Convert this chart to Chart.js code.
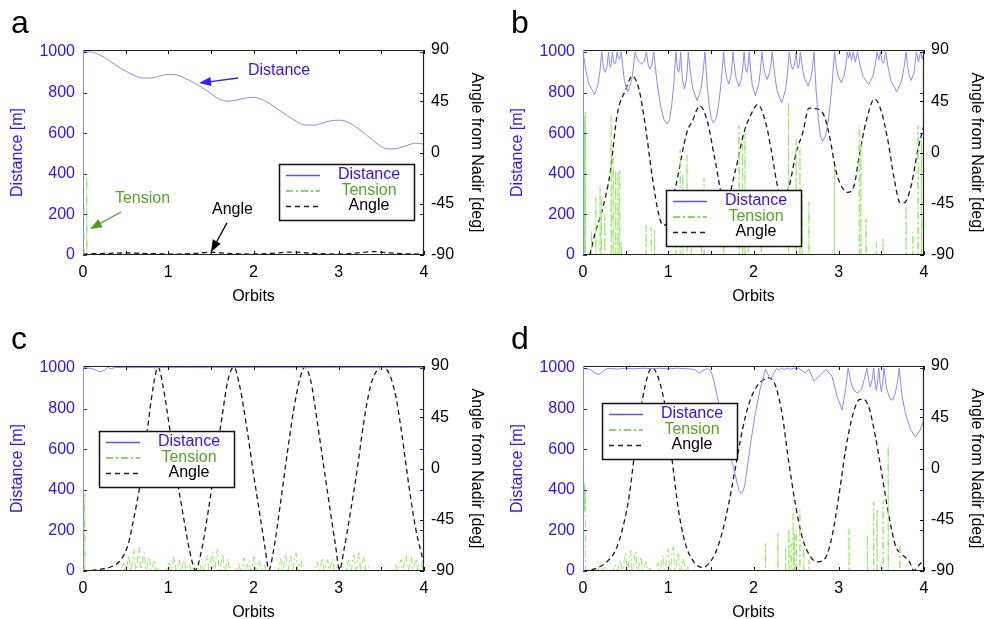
<!DOCTYPE html>
<html><head><meta charset="utf-8">
<script src="https://cdn.jsdelivr.net/npm/chart.js@4.4.0/dist/chart.umd.min.js"></script>
<style>
html,body{margin:0;padding:0;background:#fff;overflow:hidden;width:985px;height:619px;position:relative;}
canvas{position:absolute;}
</style></head><body>
<canvas id="ca" width="490" height="310" style="left:0px;top:0px"></canvas>
<canvas id="cb" width="490" height="310" style="left:500px;top:0px"></canvas>
<canvas id="cc" width="490" height="310" style="left:0px;top:316px"></canvas>
<canvas id="cd" width="490" height="310" style="left:500px;top:316px"></canvas>
<script>
// ---------- tick labels / names ----------
const orbitTicks = [0,1,2,3,4];
const orbitMinorTicks = [0,0.5,1,1.5,2,2.5,3,3.5,4];
const distanceTicks = [0,200,400,600,800,1000];
const angleTicks = [-90,-45,0,45,90];
const seriesNames = ['Distance','Tension','Angle'];
const panelLetters = ['a','b','c','d'];

// ---------- panel a ----------
const distanceA = [[0,1002],[0.1,1000],[0.2,985],[0.3,960],[0.4,931],[0.5,906],[0.6,885],[0.7,872],[0.8,872],[0.9,882],[1.0,890],[1.1,887],[1.2,870],[1.3,849],[1.4,824],[1.5,796],[1.6,768],[1.7,758],[1.8,763],[1.9,773],[2.0,776],[2.1,766],[2.2,743],[2.3,714],[2.4,686],[2.5,659],[2.6,641],[2.7,640],[2.8,648],[2.9,661],[3.0,664],[3.1,656],[3.2,631],[3.3,599],[3.4,566],[3.5,533],[3.6,522],[3.7,527],[3.8,540],[3.9,551],[4.0,546]];
const angleA = [[0,-89],[0.2,-88.8],[0.5,-88.2],[0.8,-88.8],[1.1,-89.2],[1.3,-88.6],[1.5,-87.6],[1.7,-88.6],[2.0,-89.2],[2.2,-88.6],[2.45,-87.4],[2.7,-88.6],[3.0,-89.2],[3.2,-88.3],[3.4,-87],[3.6,-88.2],[3.8,-89],[4.0,-89.2]];
const tensionA_spikes = [[0.008,385],[0.045,385]];

// ---------- panel b ----------
const distanceB = [[0,1002],[0.034,908],[0.068,843],[0.137,790],[0.178,843],[0.2,912],[0.22,1000],
[0.24,925],[0.26,900],[0.28,925],[0.30,1000],[0.311,944],[0.3225,925],[0.334,944],[0.345,1000],
[0.358,955],[0.372,940],[0.386,955],[0.40,1000],[0.4125,974],[0.425,965],[0.4375,974],[0.45,1000],
[0.469,915],[0.4875,854],[0.525,805],[0.5675,854],[0.589,915],[0.61,1000],
[0.65,955],[0.69,940],[0.7175,955],[0.745,1000],[0.765,936],[0.785,915],[0.8075,936],[0.83,1000],
[0.87,845],[0.91,734],[0.95,667],[0.99,645],[1.015,667],[1.04,734],[1.065,845],[1.09,1000],
[1.105,925],[1.12,900],[1.1325,925],[1.145,1000],[1.156,920],[1.1675,863],[1.19,818],[1.2125,863],[1.224,920],[1.235,1000],
[1.261,895],[1.2875,820],[1.34,760],[1.385,820],[1.4075,895],[1.43,1000],
[1.455,847],[1.48,737],[1.505,672],[1.53,650],[1.56,672],[1.59,737],[1.62,847],[1.65,1000],
[1.665,931],[1.68,881],[1.71,842],[1.735,881],[1.7475,931],[1.76,1000],
[1.7775,926],[1.795,872],[1.83,830],[1.86,872],[1.875,926],[1.89,1000],
[1.905,925],[1.92,900],[1.935,925],[1.95,1000],[1.9675,906],[1.985,839],[2.02,785],[2.06,839],[2.08,906],[2.10,1000],
[2.115,941],[2.13,899],[2.16,865],[2.19,899],[2.205,941],[2.22,1000],
[2.2475,891],[2.275,812],[2.33,750],[2.375,812],[2.3975,891],[2.42,1000],
[2.44,936],[2.46,914],[2.48,936],[2.50,1000],[2.5125,940],[2.525,920],[2.5375,940],[2.55,1000],
[2.5725,926],[2.595,874],[2.64,832],[2.675,874],[2.6925,926],[2.71,1000],
[2.735,807],[2.76,670],[2.785,587],[2.81,560],[2.845,587],[2.88,670],[2.915,807],[2.95,1000],
[2.97,933],[2.99,886],[3.03,848],[3.065,886],[3.0825,933],[3.10,1000],
[3.115,970],[3.13,1000],[3.15,960],[3.17,1000],[3.195,950],[3.22,1000],
[3.2525,930],[3.285,880],[3.35,840],[3.40,880],[3.425,930],[3.45,1000],
[3.47,960],[3.49,1000],[3.505,959],[3.52,945],[3.535,959],[3.55,1000],
[3.5825,915],[3.615,854],[3.68,805],[3.735,854],[3.7625,915],[3.79,1000],
[3.805,939],[3.82,895],[3.85,860],[3.88,895],[3.895,939],[3.91,1000],
[3.935,950],[3.96,1000],[3.98,965],[4.0,1000]];
const angleB = [[0.08,-90],[0.145,-70],[0.22,-52],[0.32,-17],[0.4,33],[0.5,55],[0.576,67],[0.655,56],[0.73,24],[0.81,-20],[0.89,-55],[0.94,-64],[0.99,-61],[1.09,-29],[1.22,18],[1.28,27],[1.37,41],[1.46,27],[1.54,-3],[1.67,-46],[1.79,-15],[1.89,18],[1.95,30],[2.05,42],[2.15,24],[2.22,-3],[2.28,-29],[2.34,-40],[2.42,-29],[2.5,0],[2.58,18],[2.65,39],[2.73,38.6],[2.83,32],[2.89,15],[2.97,-17],[3.05,-32],[3.1,-35],[3.18,-29],[3.24,-3],[3.32,27],[3.42,47],[3.5,36],[3.58,9],[3.65,-23],[3.72,-44],[3.77,-44],[3.85,-29],[3.93,3],[4.0,24]];
const tensionB_band = [[0,0],[0.003,700],[0.006,0],[0.009,650],[0.012,10],[0.015,690],[0.018,0],[0.021,600],[0.024,20],[0.027,703],[0.03,0]];
const tensionB_spikes = [[0.10,118],[0.15,280],[0.2,340],[0.215,276],[0.255,200],[0.33,686],[0.353,480],[0.384,414],[0.41,410],[0.43,415],[0.45,60],[0.74,145],[0.8,135],[0.84,128],[1.09,250],[1.14,520],[1.17,400],[1.22,490],[1.27,300],[1.39,300],[1.42,380],[1.65,70],[1.83,637],[1.87,545],[1.9,604],[1.94,300],[2.09,80],[2.41,752],[2.5,571],[2.545,522],[2.57,300],[2.65,260],[2.95,440],[3.24,637],[3.26,555],[3.32,177],[3.44,62],[3.52,87],[3.79,243],[3.87,112],[3.93,637],[3.97,560]];

// ---------- panel c ----------
const distanceC = [[0,1003],[0.1,998],[0.16,988],[0.2,982],[0.25,988],[0.29,1003],[0.33,996],[0.37,1003],[0.5,1002],[1,1003],[1.5,1002],[2,1003],[2.5,1002],[3,1003],[3.5,1002],[4,1003]];
const angleC = [[0,-90],[0.2,-88.5],[0.35,-85.6],[0.45,-79.7],[0.53,-66.5],[0.59,-46],[0.67,-13.6],[0.745,27.6],[0.8,60],[0.86,86],[0.88,89],[0.94,71.7],[1.02,33.5],[1.1,-7.7],[1.18,-43],[1.25,-72],[1.32,-89],[1.39,-72],[1.47,-37],[1.55,4],[1.63,45],[1.7,77.6],[1.77,89],[1.84,71.7],[1.92,36.4],[2.0,-4.7],[2.08,-43],[2.14,-72],[2.18,-89],[2.235,-72],[2.31,-34],[2.39,10],[2.47,51],[2.55,80.5],[2.6,89],[2.67,77.6],[2.745,42.3],[2.82,4],[2.9,-37],[2.96,-66.5],[3.01,-89],[3.06,-72],[3.14,-37],[3.22,1],[3.29,39],[3.37,71.7],[3.45,86.4],[3.51,89],[3.59,83.5],[3.67,63],[3.745,27.6],[3.82,-13.6],[3.9,-51.8],[4.0,-84]];
const tensionC_spikes = [[0.02,381]];
const tensionC_noise = [[0.45,0],[0.465,25],[0.48,40],[0.495,3],[0.51,8],[0.525,50],[0.54,75],[0.555,2],[0.57,12],[0.585,70],[0.60,100],[0.615,10],[0.63,5],[0.645,90],[0.66,118],[0.675,8],[0.69,20],[0.705,75],[0.72,90],[0.735,4],[0.75,6],[0.765,60],[0.78,70],[0.795,3],[0.81,15],[0.825,40],[0.84,55],[0.855,6],[0.87,4],[0.885,20],[0.90,0],
[0.98,0],[0.995,30],[1.01,45],[1.025,3],[1.04,6],[1.055,50],[1.07,70],[1.085,5],[1.10,10],[1.115,40],[1.13,55],[1.145,2],[1.16,4],[1.175,45],[1.19,65],[1.205,8],[1.22,12],[1.235,25],[1.25,35],[1.265,4],[1.28,0],
[1.37,0],[1.385,30],[1.40,50],[1.415,4],[1.43,8],[1.445,60],[1.46,80],[1.475,6],[1.49,5],[1.505,70],[1.52,95],[1.535,8],[1.55,15],[1.565,85],[1.58,107],[1.595,5],[1.61,10],[1.625,60],[1.64,85],[1.655,3],[1.67,6],[1.685,45],[1.70,60],[1.715,8],[1.73,20],[1.745,10],[1.76,0],
[1.80,0],[1.815,25],[1.83,40],[1.845,4],[1.86,5],[1.875,45],[1.89,65],[1.905,6],[1.92,12],[1.935,35],[1.95,50],[1.965,3],[1.98,8],[1.995,55],[2.01,70],[2.025,5],[2.04,4],[2.055,40],[2.07,55],[2.085,8],[2.10,10],[2.115,20],[2.13,30],[2.145,5],[2.16,0],
[2.29,0],[2.305,40],[2.32,60],[2.335,5],[2.35,10],[2.365,60],[2.38,85],[2.395,4],[2.41,5],[2.425,55],[2.44,75],[2.455,8],[2.47,15],[2.485,70],[2.50,90],[2.515,6],[2.53,6],[2.545,35],[2.56,50],[2.575,4],[2.59,0],
[2.72,0],[2.735,30],[2.75,45],[2.765,4],[2.78,8],[2.795,45],[2.81,65],[2.825,3],[2.84,5],[2.855,40],[2.87,55],[2.885,6],[2.90,12],[2.915,45],[2.93,60],[2.945,5],[2.96,4],[2.975,20],[2.99,0],
[3.09,0],[3.105,35],[3.12,55],[3.135,4],[3.15,6],[3.165,60],[3.18,80],[3.195,6],[3.21,12],[3.225,70],[3.24,90],[3.255,8],[3.27,5],[3.285,50],[3.30,70],[3.315,4],[3.33,10],[3.345,25],[3.36,0],
[3.64,0],[3.655,20],[3.67,30],[3.685,3],[3.70,5],[3.715,40],[3.73,55],[3.745,6],[3.76,10],[3.775,60],[3.79,80],[3.805,5],[3.82,6],[3.835,50],[3.85,70],[3.865,8],[3.88,15],[3.895,45],[3.91,60],[3.925,5],[3.94,4],[3.955,30],[3.97,45],[3.985,6],[4.0,0]];

// ---------- panel d ----------
const distanceD = [[0,1000],[0.086,993],[0.13,978],[0.18,968],[0.22,978],[0.26,993],[0.3,998],[0.4,995],[0.5,999],[0.6,996],[0.7,999],[0.8,997],[0.9,999],[1.0,996],[1.1,999],[1.2,997],[1.28,995],[1.32,990],[1.36,975],[1.40,985],[1.44,996],[1.475,995],[1.5,985],[1.535,939],[1.57,870],[1.61,791],[1.69,640],[1.77,500],[1.83,397],[1.855,381],[1.88,395],[1.9,430],[1.96,611],[2.02,775],[2.08,900],[2.12,960],[2.14,995],[2.18,960],[2.2,944],[2.24,975],[2.27,998],[2.3,990],[2.33,1000],[2.36,992],[2.4,1000],[2.43,993],[2.47,1000],[2.5,995],[2.53,1000],[2.57,985],[2.61,977],[2.65,995],[2.71,935],[2.77,960],[2.85,993],[2.92,960],[2.98,861],[3.04,793],[3.08,894],[3.11,1000],[3.14,935],[3.17,895],[3.22,875],[3.27,900],[3.30,945],[3.33,1000],[3.35,940],[3.37,906],[3.39,940],[3.41,1000],[3.425,930],[3.44,890],[3.455,930],[3.47,1000],[3.485,925],[3.50,882],[3.515,925],[3.53,1000],[3.56,900],[3.6,850],[3.63,841],[3.66,870],[3.69,930],[3.71,1000],[3.74,870],[3.78,780],[3.84,700],[3.9,660],[3.95,690],[4.0,745]];
const angleD = [[0,-90],[0.145,-88],[0.28,-82],[0.38,-72],[0.46,-54],[0.54,-25],[0.61,16],[0.69,57.6],[0.77,84],[0.81,88.5],[0.89,78],[0.97,51.7],[1.045,7.6],[1.12,-36.5],[1.2,-66],[1.3,-82],[1.41,-87],[1.475,-83.5],[1.55,-74.7],[1.63,-57],[1.71,-30.6],[1.79,1.7],[1.87,34],[1.95,57.6],[2.04,72.3],[2.12,78],[2.18,79.6],[2.26,72.3],[2.34,45.8],[2.41,7.6],[2.49,-30.6],[2.57,-60],[2.67,-77.6],[2.75,-82],[2.85,-77.6],[2.92,-60],[3.0,-24.7],[3.08,16.4],[3.16,45.8],[3.24,60.5],[3.28,61],[3.35,54.6],[3.43,28],[3.51,-7],[3.59,-42.4],[3.67,-68.8],[3.72,-74],[3.78,-78],[3.83,-82],[3.88,-89.5],[3.94,-85],[4.0,-80]];
const tensionD_band = [[0,0],[0.004,430],[0.008,300],[0.012,440],[0.016,290],[0.02,420],[0.024,310],[0.027,400],[0.029,0]];
const tensionD_noise = [[0.17,0],[0.2,35],[0.23,0],[0.26,25],[0.29,5],[0.32,0],
[0.35,0],[0.365,20],[0.38,30],[0.395,3],[0.41,5],[0.425,40],[0.44,55],[0.455,5],[0.47,10],[0.485,60],[0.50,85],[0.515,4],[0.53,8],[0.545,80],[0.56,100],[0.575,6],[0.59,15],[0.605,70],[0.62,95],[0.635,3],[0.65,6],[0.665,50],[0.68,70],[0.695,5],[0.71,12],[0.725,30],[0.74,45],[0.755,3],[0.77,4],[0.785,15],[0.80,0],
[0.85,0],[0.865,25],[0.88,40],[0.895,4],[0.91,8],[0.925,55],[0.94,75],[0.955,6],[0.97,12],[0.985,85],[1.00,110],[1.015,5],[1.03,6],[1.045,95],[1.06,120],[1.075,8],[1.09,15],[1.105,70],[1.12,90],[1.135,4],[1.15,5],[1.165,45],[1.18,60],[1.195,6],[1.21,10],[1.225,20],[1.24,0]];
const tensionD_spikes = [[2.14,135],[2.286,184],[2.376,118],[2.415,208],[2.44,135],[2.465,282],[2.48,184],[2.50,200],[2.544,299],[2.59,118],[2.65,52],[3.12,208],[3.335,176],[3.41,340],[3.45,299],[3.52,348],[3.58,619],[3.715,143]];

// ---------- styling ----------
const BLUE = '#3311ff', DLINE = '#8a8aff', GLINE = '#99e66a', GTEXT = '#5ba22c', BLACK = '#111111';
Chart.defaults.font.family = "'Liberation Sans', Arial, Helvetica, sans-serif";
Chart.defaults.font.size = 16;

function spikes(list){ const out=[]; for(const [x,h] of list){ out.push([x,0],[x,h],[x+0.002,0]); } return out; }
function merge(...arrs){ return arrs.flat().sort((a,b)=>a[0]-b[0]); }
const pts = a => a.map(p=>({x:p[0],y:p[1]}));

function seg(ctx,x1,y1,x2,y2){ctx.beginPath();ctx.moveTo(x1,y1);ctx.lineTo(x2,y2);ctx.stroke();}
function arrow(ctx,x1,y1,x2,y2,color){
  ctx.save(); ctx.strokeStyle=color; ctx.fillStyle=color; ctx.lineWidth=1.3; ctx.setLineDash([]);
  const a=Math.atan2(y2-y1,x2-x1), L=12, W=4.5;
  const bx=x2-L*Math.cos(a), by=y2-L*Math.sin(a);
  seg(ctx,x1,y1,bx,by);
  ctx.beginPath(); ctx.moveTo(x2,y2);
  ctx.lineTo(bx+W*Math.sin(a), by-W*Math.cos(a));
  ctx.lineTo(bx-W*Math.sin(a), by+W*Math.cos(a));
  ctx.closePath(); ctx.fill(); ctx.restore();
}

function framePlugin(cfg){
  return {
    id:'frame',
    afterDraw(chart){
      const ctx=chart.ctx, {left,right,top,bottom}=chart.chartArea, sx=chart.scales.x, sy=chart.scales.y, sy2=chart.scales.y2;
      ctx.save();
      ctx.setLineDash([]); ctx.lineWidth=1;
      ctx.strokeStyle=BLUE;
      for(const v of distanceTicks){ const y=Math.round(sy.getPixelForValue(v))+0.5; seg(ctx,left,y,left+4,y); seg(ctx,right-4,y,right,y); }
      ctx.strokeStyle=BLACK;
      for(const v of angleTicks){ const y=Math.round(sy2.getPixelForValue(v))+0.5; seg(ctx,right-4,y,right,y); }
      for(const v of orbitMinorTicks){ const x=Math.round(sx.getPixelForValue(v))+0.5; seg(ctx,x,top,x,top+4); seg(ctx,x,bottom-4,x,bottom); }
      ctx.strokeStyle='#222'; ctx.lineWidth=1.2;
      seg(ctx,left,top+0.5,right,top+0.5); seg(ctx,right-0.5,top,right-0.5,bottom); seg(ctx,left,bottom-0.5,right,bottom-0.5);
      ctx.strokeStyle='#8a8aff'; ctx.lineWidth=1;
      seg(ctx,left+0.5,top,left+0.5,bottom);
      for(const n of (cfg.notes||[])){
        const fx=sx.getPixelForValue(n.from[0]), fy=sy.getPixelForValue(n.from[1]);
        const tx=sx.getPixelForValue(n.to[0]), ty=sy.getPixelForValue(n.to[1]);
        arrow(ctx,fx,fy,tx,ty,n.arrow);
        ctx.fillStyle=n.color; ctx.font="16px 'Liberation Sans', Arial, sans-serif";
        ctx.textAlign='left'; ctx.textBaseline='middle';
        ctx.fillText(n.text, sx.getPixelForValue(n.at[0]), sy.getPixelForValue(n.at[1]));
      }
      const L=cfg.legend, w=135, h=56;
      ctx.fillStyle='#fff'; ctx.fillRect(L.x,L.y,w,h);
      ctx.strokeStyle=BLACK; ctx.lineWidth=1.5; ctx.setLineDash([]); ctx.strokeRect(L.x+0.5,L.y+0.5,w,h);
      const styles=[{c:BLUE,l:'#5555ff',d:[]},{c:GTEXT,l:'#66cc33',d:[7,3,2,3]},{c:'#000',l:'#222',d:[5,4]}];
      ctx.font="16px 'Liberation Sans', Arial, sans-serif"; ctx.textAlign='center'; ctx.textBaseline='middle';
      seriesNames.forEach((name,i)=>{
        const y=L.y+11.5+i*15.5;
        ctx.strokeStyle=styles[i].l; ctx.lineWidth=1.5; ctx.setLineDash(styles[i].d);
        seg(ctx,L.x+7,y,L.x+41,y);
        ctx.setLineDash([]); ctx.fillStyle=styles[i].c;
        ctx.fillText(name, L.x+90, y-0.5);
      });
      ctx.fillStyle='#000'; ctx.font="32px 'Liberation Sans', Arial, sans-serif"; ctx.textAlign='left'; ctx.textBaseline='alphabetic';
      ctx.fillText(cfg.letter, 11, 33);
      ctx.restore();
    }
  };
}

const plain = v => String(v);

function build(id, cfg){
  const datasets=[
    {label:seriesNames[0], data:pts(cfg.dist), yAxisID:'y', borderColor:DLINE, borderWidth:1, pointRadius:0, tension:0, cubicInterpolationMode: cfg.smooth?'monotone':'default', clip:0},
    {label:seriesNames[1], data:pts(cfg.tens), yAxisID:'y', borderColor:GLINE, borderWidth:1, borderDash:[7,3,2,3], pointRadius:0, tension:0, clip:0},
    {label:seriesNames[2], data:pts(cfg.ang), yAxisID:'y2', borderColor:'#1a1a1a', borderWidth:1.3, borderDash:[5,3.5], pointRadius:0, cubicInterpolationMode:'monotone', clip:0}
  ];
  return new Chart(document.getElementById(id),{
    type:'line',
    data:{datasets},
    options:{
      responsive:false, animation:false, events:[],
      layout:{padding:{top:50,left:0,right:0,bottom:0}},
      plugins:{legend:{display:false}, tooltip:{enabled:false}},
      scales:{
        x:{type:'linear', position:'bottom', min:0, max:4,
           afterBuildTicks:s=>{s.ticks=orbitTicks.map(v=>({value:v}));},
           ticks:{color:'#000', padding:8, maxRotation:0, callback:plain},
           grid:{display:false, drawTicks:false}, border:{display:false},
           title:{display:true, text:'Orbits', color:'#000', padding:{top:0,bottom:4}},
           afterFit:s=>{s.height=55;}},
        y:{type:'linear', position:'left', min:0, max:1010,
           afterBuildTicks:s=>{s.ticks=distanceTicks.map(v=>({value:v}));},
           ticks:{color:BLUE, padding:8, callback:plain},
           grid:{display:false, drawTicks:false}, border:{display:false},
           title:{display:true, text:'Distance [m]', color:BLUE, padding:{top:8,bottom:0}},
           afterFit:s=>{s.width=83;}},
        y2:{type:'linear', position:'right', min:-90, max:90,
           afterBuildTicks:s=>{s.ticks=angleTicks.map(v=>({value:v}));},
           ticks:{color:'#000', padding:7, callback:plain},
           grid:{display:false, drawTicks:false}, border:{display:false},
           title:{display:true, text:'Angle from Nadir [deg]', color:'#000', padding:{top:4,bottom:0}},
           afterFit:s=>{s.width=66;}}
      }
    },
    plugins:[framePlugin(cfg)]
  });
}

const notesA=[
  {text:'Distance', color:BLUE, arrow:'#2f1ff0', at:[1.935,911], from:[1.818,872], to:[1.361,847]},
  {text:'Tension', color:GTEXT, arrow:'#4e9a22', at:[0.375,278], from:[0.446,212], to:[0.082,128]},
  {text:'Angle', color:'#000', arrow:'#000', at:[1.513,224], from:[1.689,158], to:[1.501,15]}
];

build('ca',{letter:panelLetters[0], dist:distanceA, smooth:true, tens:merge(spikes(tensionA_spikes)), ang:angleA, legend:{x:279,y:164}, notes:notesA});
build('cb',{letter:panelLetters[1], dist:distanceB, tens:merge(tensionB_band, spikes(tensionB_spikes)), ang:angleB, legend:{x:166,y:190}});
build('cc',{letter:panelLetters[2], dist:distanceC, tens:merge(spikes(tensionC_spikes), tensionC_noise), ang:angleC, legend:{x:99,y:115}});
build('cd',{letter:panelLetters[3], dist:distanceD, tens:merge(tensionD_band, tensionD_noise, spikes(tensionD_spikes)), ang:angleD, legend:{x:102,y:87}});
</script>
</body></html>
